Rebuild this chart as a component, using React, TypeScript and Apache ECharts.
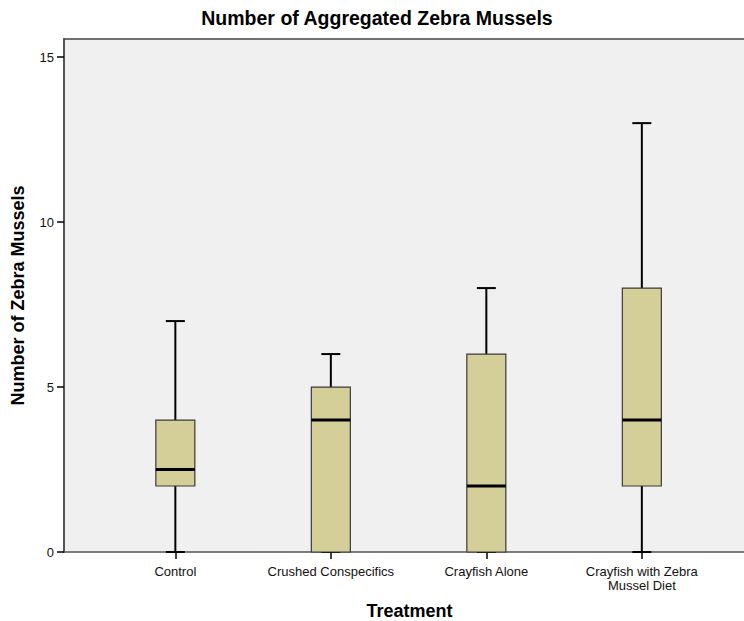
import React, { useEffect, useRef } from "react";
import * as echarts from "echarts";

const categories = [
  "Control",
  "Crushed Conspecifics",
  "Crayfish Alone",
  "Crayfish with Zebra\nMussel Diet",
];
const minVals = [0, 0, 0, 0];
const q1Vals = [2, 0, 0, 2];
const medianVals = [2.5, 4, 2, 4];
const q3Vals = [4, 5, 6, 8];
const maxVals = [7, 6, 8, 13];
const yTicks = [0, 5, 10, 15];

const FONT = "'Liberation Sans', Arial, sans-serif";

export default function App() {
  const ref = useRef<HTMLDivElement>(null);

  useEffect(() => {
    if (!ref.current) return;
    document.body.style.margin = "0";
    document.body.style.overflow = "hidden";
    const chart = echarts.init(ref.current, undefined, { renderer: "svg" });

    const data = categories.map((_, i) => [
      i,
      minVals[i],
      q1Vals[i],
      medianVals[i],
      q3Vals[i],
      maxVals[i],
    ]);
    const catIdx = categories.map((_, i) => i);

    const xMin = -0.716;
    const xMax = 3.657;

    const renderItem = (params: any, api: any) => {
      const x = api.value(0);
      const pMin = api.coord([x, api.value(1)]);
      const pQ1 = api.coord([x, api.value(2)]);
      const pMed = api.coord([x, api.value(3)]);
      const pQ3 = api.coord([x, api.value(4)]);
      const pMax = api.coord([x, api.value(5)]);
      const cx = pMed[0];
      const boxW = 39;
      const capW = 19;
      const lineStyle = { stroke: "#000", lineWidth: 2 };
      return {
        type: "group",
        children: [
          {
            type: "line",
            shape: { x1: cx, y1: pMin[1], x2: cx, y2: pQ1[1] },
            style: lineStyle,
          },
          {
            type: "line",
            shape: { x1: cx, y1: pQ3[1], x2: cx, y2: pMax[1] },
            style: lineStyle,
          },
          {
            type: "line",
            shape: { x1: cx - capW / 2, y1: pMin[1], x2: cx + capW / 2, y2: pMin[1] },
            style: lineStyle,
          },
          {
            type: "line",
            shape: { x1: cx - capW / 2, y1: pMax[1], x2: cx + capW / 2, y2: pMax[1] },
            style: lineStyle,
          },
          {
            type: "rect",
            shape: {
              x: cx - boxW / 2,
              y: pQ3[1],
              width: boxW,
              height: pQ1[1] - pQ3[1],
            },
            style: { fill: "#D4CF98", stroke: "#3a3a3a", lineWidth: 1.2 },
          },
          {
            type: "line",
            shape: { x1: cx - boxW / 2, y1: pMed[1], x2: cx + boxW / 2, y2: pMed[1] },
            style: { stroke: "#000", lineWidth: 3 },
          },
        ],
      };
    };

    chart.setOption({
      animation: false,
      backgroundColor: "#fff",
      title: {
        text: "Number of Aggregated Zebra Mussels",
        left: 377,
        top: 8,
        padding: 0,
        textAlign: "center",
        textStyle: { fontFamily: FONT, fontSize: 19.5, fontWeight: "bold", color: "#000" },
      },
      grid: {
        left: 64,
        right: 0,
        top: 39,
        bottom: 69,
        show: true,
        backgroundColor: "#F0F0F0",
        borderWidth: 0,
        containLabel: false,
        outerBoundsMode: "none",
      },
      xAxis: [
        {
          type: "value",
          min: xMin,
          max: xMax,
          position: "bottom",
          name: "Treatment",
          nameLocation: "middle",
          nameGap: 50,
          nameMoveOverlap: false,
          nameTextStyle: {
            fontFamily: FONT,
            fontSize: 18,
            fontWeight: "bold",
            color: "#000",
            padding: [0, 0, 0, 11],
          },
          axisLine: { show: true, onZero: false, lineStyle: { color: "#555", width: 1.5 } },
          axisTick: {
            show: true,
            length: 7,
            customValues: catIdx,
            lineStyle: { color: "#000", width: 1.5 },
          },
          axisLabel: {
            show: true,
            customValues: catIdx,
            margin: 12,
            fontFamily: FONT,
            fontSize: 13,
            color: "#111",
            lineHeight: 14,
            formatter: (v: number) => categories[Math.round(v)] ?? "",
          },
          splitLine: { show: false },
        },
        {
          type: "value",
          min: xMin,
          max: xMax,
          position: "top",
          axisLine: { show: true, onZero: false, lineStyle: { color: "#444", width: 1.5 } },
          axisTick: { show: false },
          axisLabel: { show: false },
          splitLine: { show: false },
        },
      ],
      yAxis: {
        type: "value",
        min: 0,
        max: 15.55,
        name: "Number of Zebra Mussels",
        nameLocation: "middle",
        nameRotate: 90,
        nameGap: 37,
        nameMoveOverlap: false,
        nameTextStyle: { fontFamily: FONT, fontSize: 18, fontWeight: "bold", color: "#000" },
        axisLine: { show: true, onZero: false, lineStyle: { color: "#555", width: 2 } },
        axisTick: {
          show: true,
          length: 7,
          customValues: yTicks,
          lineStyle: { color: "#000", width: 1.5 },
        },
        axisLabel: {
          customValues: yTicks,
          margin: 10,
          fontFamily: FONT,
          fontSize: 13,
          color: "#111",
        },
        splitLine: { show: false },
      },
      series: [
        {
          type: "custom",
          xAxisIndex: 0,
          renderItem,
          encode: { x: 0, y: [1, 2, 3, 4, 5] },
          data,
          clip: false,
        },
      ],
    });

    return () => chart.dispose();
  }, []);

  return (
    <div
      ref={ref}
      style={{ position: "absolute", left: 0, top: 0, width: 744, height: 621 }}
    />
  );
}
